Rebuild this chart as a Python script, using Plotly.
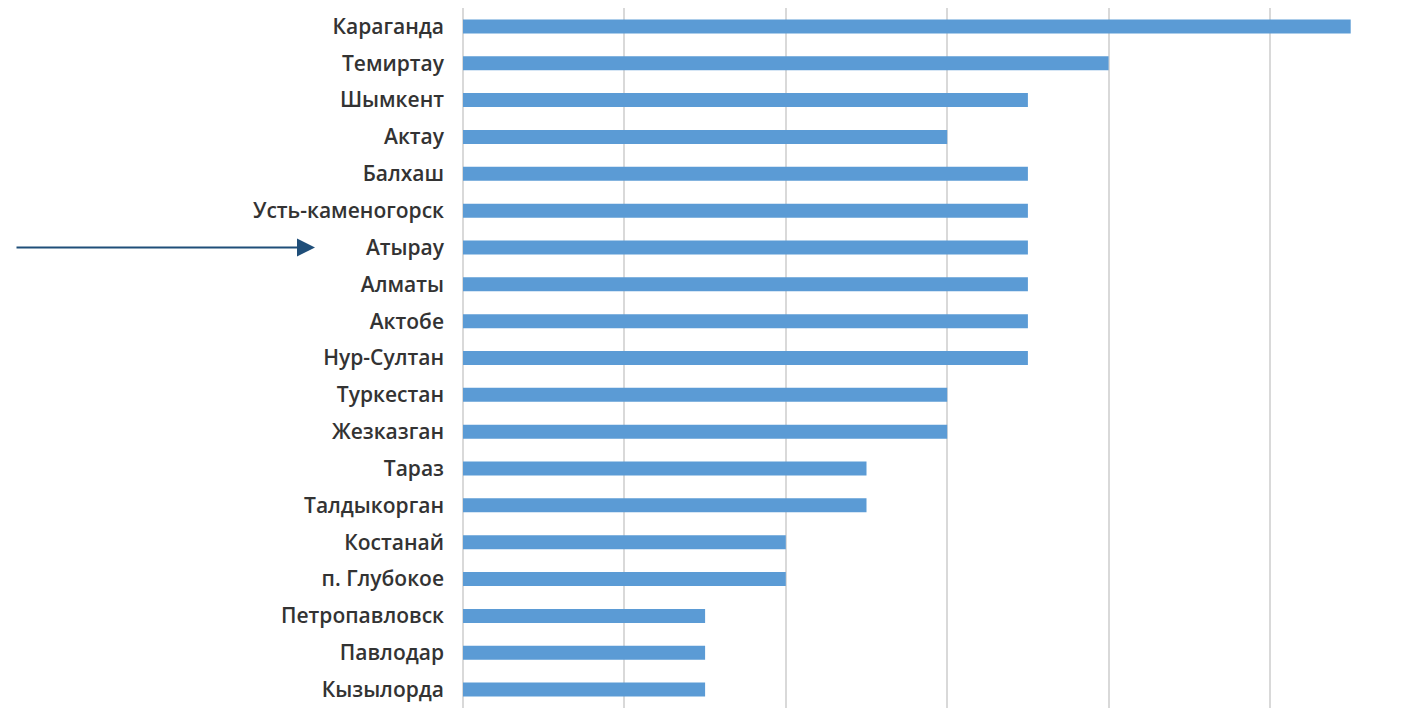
import plotly.graph_objects as go

cities = ["Караганда", "Темиртау", "Шымкент", "Актау", "Балхаш", "Усть-каменогорск",
          "Атырау", "Алматы", "Актобе", "Нур-Султан", "Туркестан", "Жезказган", "Тараз",
          "Талдыкорган", "Костанай", "п. Глубокое", "Петропавловск", "Павлодар", "Кызылорда"]
values = [5.5, 4, 3.5, 3, 3.5, 3.5, 3.5, 3.5, 3.5, 3.5, 3, 3, 2.5, 2.5, 2, 2, 1.5, 1.5, 1.5]

fig = go.Figure(go.Bar(
    x=values, y=cities, orientation="h",
    marker=dict(color="#5B9BD5", line=dict(width=0)),
    width=0.38,
))

W, H = 1415, 708
L = 455
fig.update_layout(
    width=W, height=H,
    margin=dict(l=L, r=0, t=0, b=8, autoexpand=False),
    plot_bgcolor="white", paper_bgcolor="white",
    showlegend=False,
    font=dict(family="Open Sans, Liberation Sans, Arial, sans-serif", size=21,
              color="#333333", weight=600),
    xaxis=dict(range=[0, (W - L) / 161.4], dtick=1, showgrid=True, gridcolor="#d9d9d9",
               gridwidth=1.5, zeroline=True, zerolinecolor="#d9d9d9", zerolinewidth=1.5,
               showticklabels=False, ticks="", automargin=False),
    yaxis=dict(categoryorder="array", categoryarray=cities, autorange="reversed",
               showgrid=False, ticks="", ticklabelstandoff=18, automargin=False),
)

fig.add_annotation(
    x=(315 - 463) / (W - L), xref="paper", y="Атырау", yref="y",
    ax=-300, ay=0, axref="pixel", ayref="pixel",
    text="", showarrow=True, arrowhead=2, arrowsize=1.8, arrowwidth=2,
    arrowcolor="#1F4E79",
)

fig.write_html("out.html")
